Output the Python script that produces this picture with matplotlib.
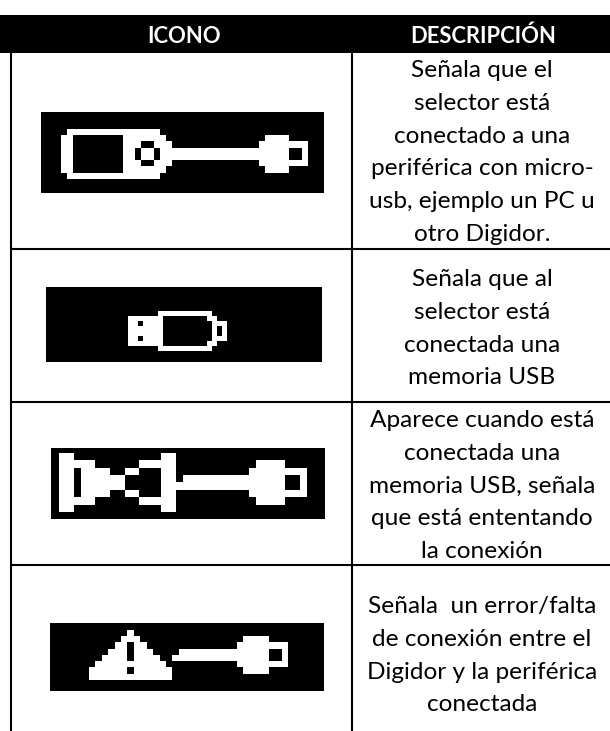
import matplotlib
matplotlib.use('Agg')
import matplotlib.pyplot as plt
import numpy as np
from matplotlib.patches import Rectangle

plt.rcParams['font.family'] = ['Lato', 'DejaVu Sans']

headers = ['ICONO', 'DESCRIPCIÓN']
descriptions = [
    ['Señala que el', 'selector está', 'conectado a una', 'periférica con micro-', 'usb, ejemplo un PC u', 'otro Digidor.'],
    ['Señala que al', 'selector está', 'conectada una', 'memoria USB'],
    ['Aparece cuando está', 'conectada una', 'memoria USB, señala', 'que está ententando', 'la conexión'],
    ['Señala  un error/falta', 'de conexión entre el', 'Digidor y la periférica', 'conectada'],
]

# pixel art of the icons, # is white
icon_selector = [
    '.###############........................',
    '##........#######................####...',
    '##........###..###..............########',
    '##........##.##.#####################..#',
    '##........##.##.#####################..#',
    '##........###..###..............########',
    '##........#######................####...',
    '.###############........................',
]
icon_usb = [
    '......###########...',
    '#######.........##..',
    '##.####..........###',
    '#######..........#.#',
    '#######..........#.#',
    '##.####..........###',
    '#######.........##..',
    '......###########...',
]
icon_connecting = [
    '##............##..................',
    '#####......#####...........####...',
    '##.####..##...##..........########',
    '##.######.....##.##############..#',
    '##.######.....#################..#',
    '##.####..##...##..........########',
    '#####......#####...........####...',
    '##............##..................',
]
icon_error = [
    '......#........................',
    '.....###................####...',
    '....##.##..............########',
    '...###.###....##############..#',
    '..####.####..###############..#',
    '.###########...........########',
    '######.######...........####...',
    '#############..................',
]
icons = [icon_selector, icon_usb, icon_connecting, icon_error]

# layout in image pixels
WIDTH, HEIGHT = 610, 731
icon_boxes = [(41, 324, 112, 193), (46, 322, 287, 362), (51, 325, 448, 519), (50, 324, 623, 691)]
art_boxes = [(61, 307.3, 129.3, 178.7), (128.3, 227.3, 310.7, 350.7), (59.3, 306.7, 453.3, 512.3), (89, 287.3, 630, 680)]
row_lines = [249, 402, 565]
text_first = [77, 286, 427, 613]
line_step = 32.8
text_x = 482

fig = plt.figure(figsize=(WIDTH / 100, HEIGHT / 100), dpi=100)
ax = fig.add_axes([0, 0, 1, 1])

# header band
ax.add_patch(Rectangle((0, 15), WIDTH, 38, color='black', lw=0))
ax.text(184, 43, headers[0], color='white', fontsize=15.8, fontweight='bold', ha='center', va='baseline')
ax.text(483, 43, headers[1], color='white', fontsize=15.8, fontweight='bold', ha='center', va='baseline')

# table rules
ax.vlines([11, 352], 53, HEIGHT, color='black', lw=1.5)
ax.hlines(row_lines, 11, WIDTH, color='black', lw=1.5)

for art, box, abox in zip(icons, icon_boxes, art_boxes):
    ax.add_patch(Rectangle((box[0], box[2]), box[1] - box[0], box[3] - box[2], color='black', lw=0))
    bitmap = np.array([[c == '#' for c in r] for r in art], dtype=float)
    ax.imshow(bitmap, cmap='gray', vmin=0, vmax=1, interpolation='nearest', aspect='auto',
              extent=(abox[0], abox[1], abox[3], abox[2]), zorder=2)

for lines, y0 in zip(descriptions, text_first):
    for i, line in enumerate(lines):
        ax.text(text_x, y0 + i * line_step, line, color='black', fontsize=17.6, ha='center', va='baseline')

ax.set_xlim(0, WIDTH)
ax.set_ylim(HEIGHT, 0)
ax.axis('off')

fig.savefig('out.png', dpi=100, facecolor='white')
